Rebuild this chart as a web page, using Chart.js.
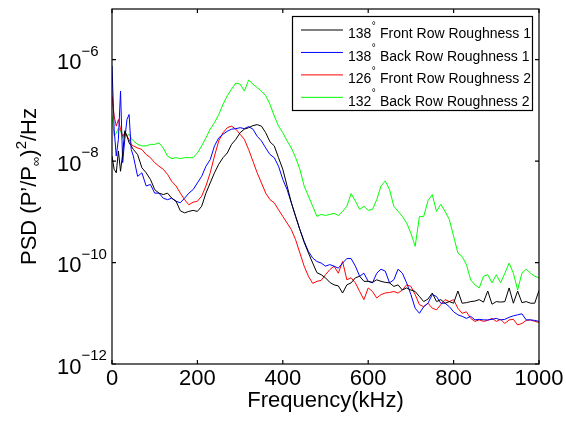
<!DOCTYPE html>
<html>
<head>
<meta charset="utf-8">
<script src="https://cdn.jsdelivr.net/npm/chart.js@4/dist/chart.umd.min.js"></script>
<style>
    body { margin: 0; background: #fff; }
    canvas { display: block; }
</style>
</head>
<body>
<canvas id="psdChart" width="566" height="421"></canvas>
<script>
// Frequency (kHz)
const frequencies = [
    0, 5, 10, 15, 20, 25, 30, 35, 40, 45, 50,
    60, 70, 80, 90, 100, 110, 120, 130, 140, 150,
    160, 170, 180, 190, 200, 210, 220, 230, 240, 250,
    260, 270, 280, 290, 300, 310, 320, 330, 340, 350,
    360, 370, 380, 390, 400, 410, 420, 430, 440, 450,
    460, 470, 480, 490, 500, 510, 520, 530, 540, 550,
    560, 570, 580, 590, 600, 610, 620, 630, 640, 650,
    660, 670, 680, 690, 700, 710, 720, 730, 740, 750,
    760, 770, 780, 790, 800, 810, 820, 830, 840, 850,
    860, 870, 880, 890, 900, 910, 920, 930, 940, 950,
    960, 970, 980, 990, 1000
];

const seriesLabels = [
    "138° Front Row Roughness 1",
    "138° Back Row Roughness 1",
    "126° Front Row Roughness 2",
    "132° Back Row Roughness 2"
];
const seriesColors = ["#000000", "#0000ff", "#ff0000", "#00ff00"];

const frontRow138 = [
    1.26e-8, 6.92e-9, 5.89e-9, 1.58e-8, 6.31e-9, 1.41e-8, 3.98e-8, 3.16e-8, 2.29e-8, 2.0e-8, 1.7e-8,
    1.35e-8, 7.41e-9, 5.89e-9, 4.37e-9, 2.75e-9, 2.34e-9, 2.19e-9, 2.34e-9, 1.86e-9, 1.62e-9,
    1.05e-9, 9.55e-10, 1.02e-9, 1.07e-9, 1.02e-9, 1.29e-9, 2.34e-9, 3.72e-9, 5.89e-9, 8.71e-9,
    1.17e-8, 1.45e-8, 2.14e-8, 2.69e-8, 3.63e-8, 4.27e-8, 4.57e-8, 5.01e-8, 5.25e-8, 4.9e-8,
    3.63e-8, 2.4e-8, 2.0e-8, 1.17e-8, 6.92e-9, 3.24e-9, 1.51e-9, 8.13e-10, 4.47e-10, 2.51e-10,
    1.55e-10, 9.77e-11, 6.31e-11, 5.75e-11, 5.01e-11, 4.07e-11, 3.63e-11, 3.47e-11, 2.51e-11, 3.63e-11,
    3.98e-11, 5.01e-11, 5.37e-11, 4.27e-11, 4.27e-11, 4.07e-11, 4.57e-11, 4.27e-11, 4.07e-11, 3.98e-11,
    3.39e-11, 3.63e-11, 2.88e-11, 3.16e-11, 2.88e-11, 2.69e-11, 2.14e-11, 1.7e-11, 1.91e-11, 2.51e-11,
    1.7e-11, 1.86e-11, 1.58e-11, 1.7e-11, 1.58e-11, 2.75e-11, 1.58e-11, 1.62e-11, 1.7e-11, 1.74e-11,
    1.86e-11, 1.66e-11, 2.75e-11, 1.51e-11, 1.7e-11, 1.66e-11, 1.7e-11, 3.16e-11, 1.58e-11, 2.75e-11,
    1.62e-11, 1.7e-11, 1.58e-11, 1.58e-11, 2.82e-11
];

const backRow138 = [
    7.59e-7, 4.27e-8, 1.26e-8, 2.69e-8, 2.4e-7, 9.33e-9, 2.69e-8, 6.61e-8, 8.32e-8, 1.7e-8, 1.26e-8,
    5.01e-9, 5.89e-9, 3.24e-9, 3.47e-9, 2.34e-9, 2.34e-9, 1.86e-9, 1.74e-9, 1.86e-9, 1.62e-9,
    1.51e-9, 1.86e-9, 2.34e-9, 2.75e-9, 3.72e-9, 5.01e-9, 7.94e-9, 1.07e-8, 2.0e-8, 2.88e-8,
    3.39e-8, 3.89e-8, 4.27e-8, 4.37e-8, 4.57e-8, 4.37e-8, 4.79e-8, 4.27e-8, 3.09e-8, 2.51e-8,
    1.82e-8, 1.35e-8, 1.17e-8, 7.94e-9, 4.37e-9, 2.75e-9, 1.51e-9, 8.13e-10, 4.47e-10, 2.63e-10,
    1.66e-10, 1.23e-10, 1.05e-10, 9.77e-11, 8.51e-11, 9.12e-11, 8.51e-11, 7.76e-11, 9.77e-11, 1.2e-10,
    1.2e-10, 8.51e-11, 5.37e-11, 6.17e-11, 4.27e-11, 3.98e-11, 6.17e-11, 7.41e-11, 6.76e-11, 3.98e-11,
    4.57e-11, 7.41e-11, 6.17e-11, 3.98e-11, 2.34e-11, 1.26e-11, 1.0e-11, 1.35e-11, 1.58e-11, 2.34e-11,
    2.14e-11, 1.58e-11, 1.58e-11, 1.35e-11, 1.07e-11, 9.33e-12, 8.71e-12, 7.94e-12, 8.71e-12, 7.41e-12,
    7.59e-12, 7.41e-12, 7.41e-12, 7.59e-12, 7.94e-12, 7.41e-12, 7.59e-12, 8.32e-12, 8.91e-12, 9.33e-12,
    9.77e-12, 7.41e-12, 7.41e-12, 7.24e-12, 6.92e-12
];

const frontRow126 = [
    1.95e-7, 7.76e-8, 4.9e-8, 6.61e-8, 4.27e-8, 3.09e-8, 3.63e-8, 3.09e-8, 2.69e-8, 2.14e-8, 2.0e-8,
    1.82e-8, 1.7e-8, 1.35e-8, 1.17e-8, 9.33e-9, 7.94e-9, 6.92e-9, 5.5e-9, 3.98e-9, 3.24e-9,
    2.34e-9, 1.74e-9, 1.38e-9, 1.55e-9, 1.62e-9, 2.04e-9, 3.24e-9, 5.89e-9, 1.26e-8, 2.51e-8,
    3.63e-8, 4.57e-8, 4.9e-8, 4.27e-8, 3.39e-8, 2.69e-8, 1.7e-8, 1.0e-8, 5.89e-9, 3.72e-9,
    2.34e-9, 1.74e-9, 1.51e-9, 1.1e-9, 8.13e-10, 6.03e-10, 4.47e-10, 2.82e-10, 1.55e-10, 8.51e-11,
    5.37e-11, 3.89e-11, 4.27e-11, 4.47e-11, 5.75e-11, 7.24e-11, 8.51e-11, 6.17e-11, 1.05e-10, 4.57e-11,
    5.01e-11, 3.98e-11, 2.69e-11, 1.86e-11, 3.16e-11, 2.69e-11, 2.0e-11, 2.34e-11, 2.51e-11, 2.57e-11,
    2.69e-11, 2.51e-11, 2.88e-11, 3.63e-11, 3.39e-11, 2.34e-11, 1.48e-11, 1.35e-11, 1.58e-11, 1.26e-11,
    1.17e-11, 1.48e-11, 1.86e-11, 1.7e-11, 1.86e-11, 1.26e-11, 1.0e-11, 1.07e-11, 7.94e-12, 6.92e-12,
    7.41e-12, 6.92e-12, 7.24e-12, 7.94e-12, 6.92e-12, 7.59e-12, 6.31e-12, 7.41e-12, 7.59e-12, 5.89e-12,
    6.31e-12, 7.24e-12, 7.41e-12, 6.92e-12, 6.61e-12
];

const backRow132 = [
    7.94e-8, 3.16e-8, 3.55e-8, 4.47e-8, 3.98e-8, 2.82e-8, 3.55e-8, 3.16e-8, 3.39e-8, 2.82e-8, 2.51e-8,
    2.14e-8, 2.0e-8, 2.0e-8, 2.14e-8, 2.14e-8, 2.29e-8, 1.82e-8, 1.26e-8, 1.12e-8, 1.17e-8,
    1.12e-8, 1.17e-8, 1.17e-8, 1.17e-8, 1.45e-8, 2.0e-8, 2.88e-8, 4.27e-8, 5.75e-8, 8.32e-8,
    1.32e-7, 1.95e-7, 2.63e-7, 3.47e-7, 3.31e-7, 2.4e-7, 3.98e-7, 3.31e-7, 2.82e-7, 2.4e-7,
    1.95e-7, 1.32e-7, 7.76e-8, 4.9e-8, 3.63e-8, 2.51e-8, 1.82e-8, 1.17e-8, 6.92e-9, 3.24e-9,
    2.04e-9, 1.29e-9, 8.13e-10, 8.91e-10, 8.51e-10, 8.91e-10, 9.33e-10, 8.51e-10, 1.02e-9, 1.29e-9,
    2.29e-9, 1.62e-9, 1.12e-9, 1.29e-9, 1.07e-9, 1.12e-9, 1.74e-9, 3.24e-9, 4.07e-9, 2.75e-9,
    1.29e-9, 1.02e-9, 8.13e-10, 6.03e-10, 3.8e-10, 2.09e-10, 8.13e-10, 8.13e-10, 1.66e-9, 2.19e-9,
    1.02e-9, 1.41e-9, 1.02e-9, 7.08e-10, 3.31e-10, 1.55e-10, 1.32e-10, 9.12e-11, 4.57e-11, 3.63e-11,
    3.16e-11, 5.37e-11, 5.75e-11, 3.98e-11, 5.75e-11, 3.98e-11, 6.17e-11, 9.77e-11, 6.17e-11, 2.88e-11,
    6.17e-11, 7.41e-11, 6.17e-11, 5.37e-11, 5.01e-11
];

const xTickValues = [0, 200, 400, 600, 800, 1000];
const yTickValues = [1e-12, 1e-10, 1e-8, 1e-6];
const yTickExponents = ["\u221212", "\u221210", "\u22128", "\u22126"];

const FONT = '"Liberation Sans", Arial, Helvetica, sans-serif';

function toPoints(values) {
    return frequencies.map((f, i) => ({ x: f, y: values[i] }));
}

// Axes box, inward ticks and the tick labels (10 with a raised exponent)
function drawAxes(chart) {
    const ctx = chart.ctx;
    const area = chart.chartArea;
    const xScale = chart.scales.x;
    const yScale = chart.scales.y;

    ctx.save();
    ctx.strokeStyle = "#000";
    ctx.lineWidth = 1.2;
    ctx.strokeRect(area.left, area.top, area.right - area.left, area.bottom - area.top);

    ctx.beginPath();
    xTickValues.forEach(v => {
        const px = xScale.getPixelForValue(v);
        ctx.moveTo(px, area.bottom);
        ctx.lineTo(px, area.bottom - 4);
        ctx.moveTo(px, area.top);
        ctx.lineTo(px, area.top + 4);
    });
    yTickValues.forEach(v => {
        const py = yScale.getPixelForValue(v);
        ctx.moveTo(area.left, py);
        ctx.lineTo(area.left + 4, py);
        ctx.moveTo(area.right, py);
        ctx.lineTo(area.right - 4, py);
    });
    ctx.stroke();

    ctx.fillStyle = "#000";
    ctx.font = "22px " + FONT;
    ctx.textAlign = "center";
    ctx.textBaseline = "alphabetic";
    xTickValues.forEach(v => {
        ctx.fillText(String(v), xScale.getPixelForValue(v), 385);
    });

    ctx.textAlign = "left";
    yTickValues.forEach((v, i) => {
        const py = yScale.getPixelForValue(v);
        ctx.font = "22px " + FONT;
        ctx.fillText("10", 57, py + 9.5);
        const w = ctx.measureText("10").width;
        ctx.font = "15px " + FONT;
        ctx.fillText(yTickExponents[i], 57 + w, py - 4);
    });

    // x axis title
    ctx.font = "22px " + FONT;
    ctx.textAlign = "center";
    ctx.fillText("Frequency(kHz)", (area.left + area.right) / 2, 407);

    // y axis title, rotated, with subscript infinity and squared
    const parts = [
        { text: "PSD (P\u2019/P", size: 22, shift: 0 },
        { text: "\u221e", size: 13, shift: 4 },
        { text: ")", size: 22, shift: 0 },
        { text: "2", size: 15, shift: -10 },
        { text: "/Hz", size: 22, shift: 0 }
    ];
    let total = 0;
    parts.forEach(p => {
        ctx.font = p.size + "px " + FONT;
        p.width = ctx.measureText(p.text).width;
        total += p.width;
    });
    ctx.translate(36, (area.top + area.bottom) / 2);
    ctx.rotate(-Math.PI / 2);
    ctx.textAlign = "left";
    let pos = -total / 2;
    parts.forEach(p => {
        ctx.font = p.size + "px " + FONT;
        ctx.fillText(p.text, pos, p.shift);
        pos += p.width;
    });
    ctx.restore();
}

// Legend box inside the plot, top right
function drawLegend(chart) {
    const ctx = chart.ctx;
    const box = { left: 292.5, top: 16.5, width: 240, height: 94 };

    ctx.save();
    ctx.fillStyle = "#fff";
    ctx.fillRect(box.left, box.top, box.width, box.height);
    ctx.strokeStyle = "#000";
    ctx.lineWidth = 1.2;
    ctx.strokeRect(box.left, box.top, box.width, box.height);

    chart.data.datasets.forEach((ds, i) => {
        const lineY = 30 + i * 22.45;
        ctx.strokeStyle = ds.borderColor;
        ctx.lineWidth = 1;
        ctx.beginPath();
        ctx.moveTo(301, lineY);
        ctx.lineTo(343, lineY);
        ctx.stroke();

        const [angle, rest] = ds.label.split("\u00b0");
        ctx.fillStyle = "#000";
        ctx.font = "14px " + FONT;
        ctx.fillText(angle, 348, lineY + 8.3);
        const w = ctx.measureText(angle).width;
        ctx.font = "10px " + FONT;
        ctx.fillText("\u00b0", 348 + w + 0.5, lineY - 1);
        ctx.font = "14px " + FONT;
        ctx.fillText(rest.trim(), 380, lineY + 8.3);
    });
    ctx.restore();
}

const matlabFrame = {
    id: "matlabFrame",
    afterDraw(chart) {
        drawAxes(chart);
        drawLegend(chart);
    }
};

const allSeries = [frontRow138, backRow138, frontRow126, backRow132];

const ctx = document.getElementById("psdChart").getContext("2d");
const psdChart = new Chart(ctx, {
    type: "line",
    data: {
        datasets: allSeries.map((values, i) => ({
            label: seriesLabels[i],
            data: toPoints(values),
            borderColor: seriesColors[i],
            backgroundColor: seriesColors[i],
            borderWidth: 1,
            pointRadius: 0,
            tension: 0,
            fill: false
        }))
    },
    options: {
        responsive: false,
        animation: false,
        layout: {
            padding: { left: 112, right: 27, top: 9, bottom: 57 }
        },
        plugins: {
            legend: { display: false },
            tooltip: { enabled: false }
        },
        scales: {
            x: {
                type: "linear",
                min: 0,
                max: 1000,
                display: false
            },
            y: {
                type: "logarithmic",
                min: 1e-12,
                max: 1e-5,
                display: false
            }
        }
    },
    plugins: [matlabFrame]
});
</script>
</body>
</html>
